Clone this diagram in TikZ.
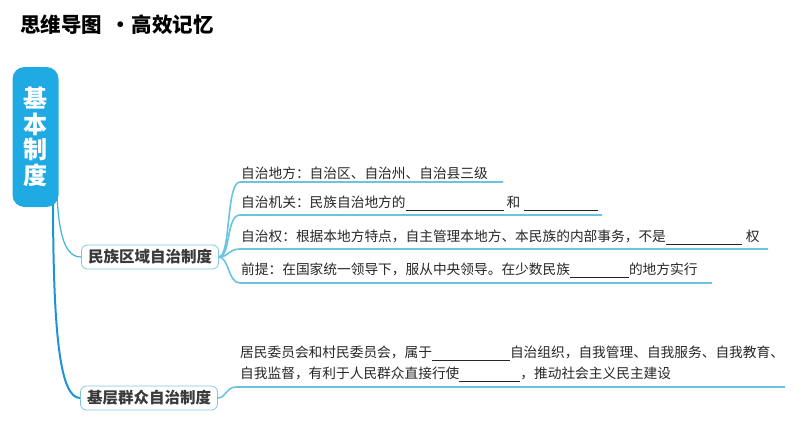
\documentclass[tikz,border=0pt]{standalone}
\usepackage{fontspec}
\usetikzlibrary{backgrounds}
\newfontfamily\cjk{Noto Sans CJK SC}
\definecolor{boxblue}{HTML}{1FAAE3}
\definecolor{leftdark}{HTML}{1E93D3}
\definecolor{leftlight}{HTML}{3FB2DE}
\definecolor{branchc}{HTML}{6AC4E0}
\definecolor{nodeborder}{HTML}{82C6DA}
\definecolor{nodetext}{HTML}{3A3A3A}
\newcommand\fillin[1]{\rule[-4pt]{#1pt}{0.7pt}}
\begin{document}
\begin{tikzpicture}[x=1pt,y=-1pt,
  rootbox/.style={fill=boxblue, rounded corners=12pt, minimum width=46pt, minimum height=140pt,
    inner sep=0pt, align=center, text=white, font=\cjk\bfseries\fontsize{24}{25.5}\selectfont},
  subnode/.style={draw=nodeborder, line width=0.8pt, rounded corners=6pt, fill=white,
    minimum width=137pt, minimum height=24pt, inner sep=0pt,
    font=\cjk\bfseries\fontsize{15.5}{18}\selectfont, text=nodetext},
  txt/.style={anchor=base west, inner sep=0pt, font=\cjk\fontsize{13.7}{16}\selectfont, text=black!85},
  branch/.style={draw=branchc, line width=1.6pt},
  titlefont/.style={anchor=west, inner sep=0pt, font=\cjk\bfseries\fontsize{20.5}{22}\selectfont, text=black}]
\useasboundingbox (0,0) rectangle (794,447);

\node[titlefont] (title) at (20,25) {思维导图\hspace{8pt}·\hspace{1pt}高效记忆};

\node[rootbox] (root) at (35.5,137) {基\\本\\制\\度};
\node[subnode] (mz) at (150,257) {民族区域自治制度};
\node[subnode] (jc) at (149,398) {基层群众自治制度};

\coordinate (s1) at (57,195);
\coordinate (s2) at (53,195);
\begin{pgfonlayer}{background}
\draw[leftlight, line width=1.2pt] (s1) .. controls (59,238) and (66,257) .. (mz.west);
\draw[leftdark, line width=2pt] (s2) .. controls (53,335) and (60,398) .. (jc.west);
\end{pgfonlayer}

\coordinate (a1) at (240,182); \coordinate (e1) at (503,182);
\coordinate (a2) at (240,215); \coordinate (e2) at (602,215);
\coordinate (a3) at (240,249); \coordinate (e3) at (768,249);
\coordinate (a4) at (240,283); \coordinate (e4) at (712,283);
\coordinate (b1) at (236,387); \coordinate (be) at (785,387);

\draw[branch] (mz.east) .. controls +(12,0) and +(-14,0) .. (a1) -- (e1);
\draw[branch] (mz.east) .. controls +(12,0) and +(-14,0) .. (a2) -- (e2);
\draw[branch] (mz.east) .. controls +(10,0) and +(-12,0) .. (a3) -- (e3);
\draw[branch] (mz.east) .. controls +(10,0) and +(-12,0) .. (a4) -- (e4);
\draw[branch] (jc.east) .. controls +(8,0) and +(-10,0) .. (b1) -- (be);

\node[txt] (t1) at (241,178) {自治地方：自治区、自治州、自治县三级};
\node[txt] (t2) at (241,207) {自治机关：民族自治地方的\fillin{98}\hspace{3pt}和\hspace{4pt}\fillin{74}};
\node[txt] (t3) at (241,241) {自治权：根据本地方特点，自主管理本地方、本民族的内部事务，不是\fillin{76}\hspace{4pt}权};
\node[txt] (t4) at (241,274) {前提：在国家统一领导下，服从中央领导。在少数民族\fillin{59}的地方实行};
\node[txt] (t5) at (240,357) {居民委员会和村民委员会，属于\fillin{78}自治组织，自我管理、自我服务、自我教育、};
\node[txt] (t6) at (240,378) {自我监督，有利于人民群众直接行使\fillin{61}，推动社会主义民主建设};
\end{tikzpicture}
\end{document}
